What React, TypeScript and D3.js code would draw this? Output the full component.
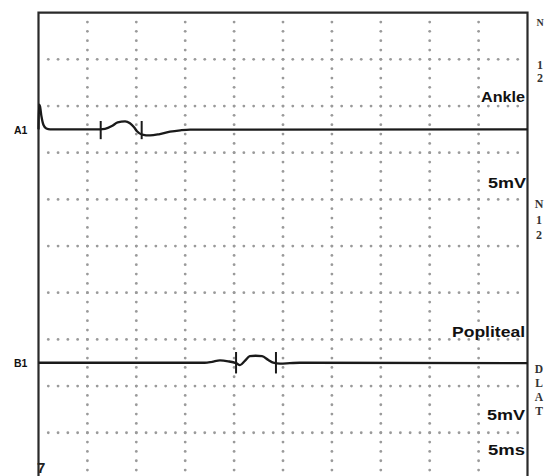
import React from "react";
import * as d3 from "d3";

// ---- data (time in ms, amplitude in mV relative to each trace baseline) ----
const timeA = [0, 0.05, 0.15, 0.3, 0.5, 0.8, 1.2, 6.3, 6.8, 7.5, 8.1, 8.85, 9.35, 9.75, 10.07, 10.6, 11.4, 12.4, 13.45, 14.5, 15.5, 50];
const voltA = [0, 2.65, 2.5, 1.4, 0.5, 0.1, 0, 0, 0.05, 0.35, 0.75, 0.85, 0.65, 0.25, -0.2, -0.55, -0.65, -0.5, -0.25, -0.1, -0.02, 0];
const timeB = [0, 17.0, 17.75, 18.55, 19.4, 20.2, 20.6, 21.1, 21.6, 22.2, 22.85, 23.5, 24.0, 24.7, 25.7, 26.7, 50];
const voltB = [0, 0, 0.1, 0.25, 0.15, -0.05, -0.25, 0.2, 0.7, 0.75, 0.7, 0.3, 0, -0.1, -0.05, 0, -0.05];
const markersA = [6.36, 10.55];
const markersB = [20.2, 24.28];
const traceNames = ["A1", "B1"];
const siteNames = ["Ankle", "Popliteal"];
const gainLabel = "5mV";
const sweepLabel = "5ms";
const sideTextTop = ["N", "1", "2"];
const sideTextMid = ["N", "1", "2"];
const sideTextBot = ["D", "L", "A", "T"];
const timeDivs = d3.range(0, 51, 5); // 10 divisions of 5 ms
const ampDivs = d3.range(0, 11, 1); // 10 divisions of 5 mV

const W = 558;
const H = 476;
const L = 38.5, R = 527.5, T = 12.7, B = 479.4;

export default function App() {
  const x = d3.scaleLinear().domain([0, 50]).range([L, R]);
  const div = d3.scaleLinear().domain([0, 10]).range([T, B]);
  // trace A baseline at 2.5 divisions, trace B baseline at 7.5 divisions, 5 mV/div
  const yA = d3.scaleLinear().domain([12.5, -37.5]).range([T, B]);
  const yB = d3.scaleLinear().domain([37.5, -12.5]).range([T, B]);

  const lineA = d3.line<number>().x((_, i) => x(timeA[i])).y((v) => yA(v)).curve(d3.curveMonotoneX);
  const lineB = d3.line<number>().x((_, i) => x(timeB[i])).y((v) => yB(v)).curve(d3.curveMonotoneX);

  const hStep = (x(5) - x(0)) / 5;
  const vStep = (div(1) - div(0)) / 5;

  const dots: JSX.Element[] = [];
  ampDivs.slice(1).forEach((d) => {
    const yy = div(d);
    for (let xx = L + hStep; xx < R - 2; xx += hStep) {
      dots.push(<circle key={`h${d}-${xx.toFixed(1)}`} cx={xx} cy={yy} r={1.4} fill="#9a9a9a" />);
    }
  });
  timeDivs.slice(1, -1).forEach((t) => {
    const xx = x(t);
    for (let yy = T + vStep; yy < H + 2; yy += vStep) {
      dots.push(<circle key={`v${t}-${yy.toFixed(1)}`} cx={xx} cy={yy} r={1.4} fill="#9a9a9a" />);
    }
  });

  const lbl = { fontFamily: "'Liberation Sans', Arial, sans-serif", fontWeight: 700, fill: "#111" } as const;
  const side = { fontFamily: "'Liberation Serif', 'DejaVu Serif', serif", fontWeight: 700, fill: "#333", fontSize: 12 } as const;

  return (
    <svg width={W} height={H} style={{ position: "absolute", left: 0, top: 0, background: "#fff" }}>
      <rect x={0} y={0} width={W} height={H} fill="#fff" />
      {dots}
      <path d={`M${L},${H} V${T} H${R} V${H}`} fill="none" stroke="#2a2a2a" strokeWidth={2.2} />
      <path d={lineA(voltA) || ""} fill="none" stroke="#1a1a1a" strokeWidth={2.3} />
      <path d={lineB(voltB) || ""} fill="none" stroke="#1a1a1a" strokeWidth={2.3} />
      {markersA.map((m) => (
        <line key={`ma${m}`} x1={x(m)} x2={x(m)} y1={yA(0.9)} y2={yA(-1.05)} stroke="#1a1a1a" strokeWidth={2} />
      ))}
      {markersB.map((m) => (
        <line key={`mb${m}`} x1={x(m)} x2={x(m)} y1={yB(1.15)} y2={yB(-1.15)} stroke="#1a1a1a" strokeWidth={2} />
      ))}
      <text x={14} y={yA(0) + 5} fontSize={10.5} {...lbl}>{traceNames[0]}</text>
      <text x={14} y={yB(0) + 4} fontSize={10.5} {...lbl}>{traceNames[1]}</text>
      <text x={481} y={102} fontSize={14} textLength={44} lengthAdjust="spacingAndGlyphs" {...lbl}>{siteNames[0]}</text>
      <text x={488} y={188} fontSize={15} textLength={38} lengthAdjust="spacingAndGlyphs" {...lbl}>{gainLabel}</text>
      <text x={452} y={337} fontSize={15} textLength={73} lengthAdjust="spacingAndGlyphs" {...lbl}>{siteNames[1]}</text>
      <text x={487} y={420} fontSize={15} textLength={38} lengthAdjust="spacingAndGlyphs" {...lbl}>{gainLabel}</text>
      <text x={488} y={455} fontSize={15} textLength={37} lengthAdjust="spacingAndGlyphs" {...lbl}>{sweepLabel}</text>
      {sideTextTop.map((c, i) => (
        <text key={`st${i}`} x={540} y={[26, 69, 82][i]} textAnchor="middle" {...side} fontSize={i === 0 ? 10 : 12}>{c}</text>
      ))}
      {sideTextMid.map((c, i) => (
        <text key={`sm${i}`} x={539} y={[208, 224, 239][i]} textAnchor="middle" {...side}>{c}</text>
      ))}
      {sideTextBot.map((c, i) => (
        <text key={`sb${i}`} x={539} y={[373, 387, 401, 415][i]} textAnchor="middle" {...side} fontSize={11.5}>{c}</text>
      ))}
      <text x={37} y={473} fontSize={15} fontFamily="'Liberation Sans', Arial, sans-serif" fontWeight={700} fill="#222">7</text>
    </svg>
  );
}
